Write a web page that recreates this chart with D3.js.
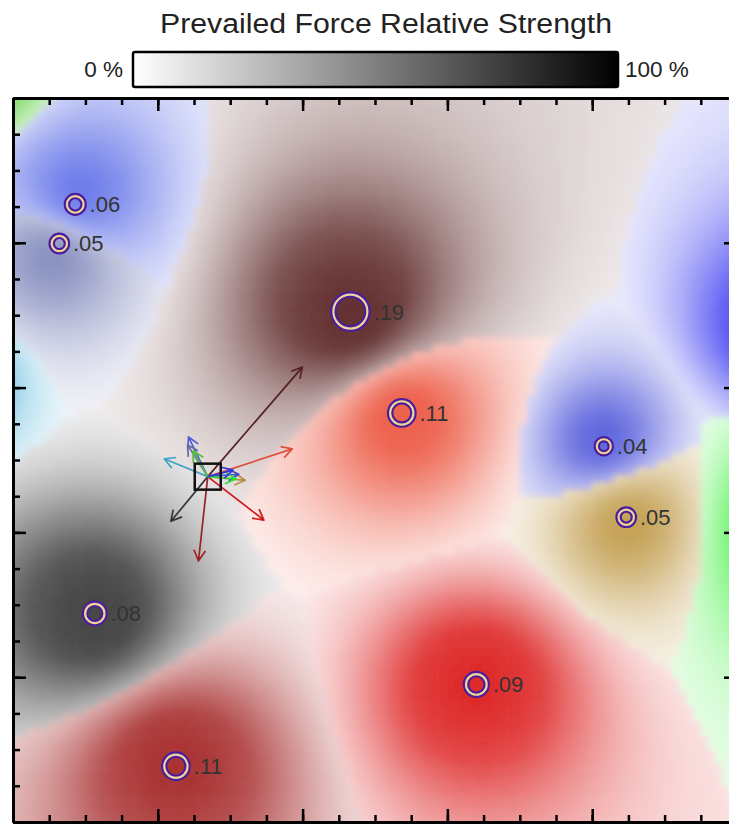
<!DOCTYPE html>
<html>
<head>
<meta charset="utf-8">
<script src="https://cdn.jsdelivr.net/npm/d3@7"></script>
<style>
body { margin: 0; background: #fff; }
text { font-family: "Liberation Sans", Arial, sans-serif; }
</style>
</head>
<body>
<script>
// force sources, axis units 0..100
var labels = [".06", ".05", ".19", ".11", ".04", ".05", ".08", ".09", ".11"];
var srcX = [8.6, 6.4, 46.6, 53.7, 81.6, 84.7, 11.3, 64.0, 22.5];
var srcY = [85.3, 79.9, 70.5, 56.5, 51.9, 42.1, 28.8, 19.0, 7.7];
var strength = [0.06, 0.05, 0.19, 0.11, 0.04, 0.05, 0.08, 0.09, 0.11];
var pull = [6.1, 5.2, 20, 12.3, 4.3, 5.2, 8, 9.8, 11.7];

// sources sitting just outside the frame (no marker, no label)
var edgeX = [109, 106, -8, -4];
var edgeY = [41, 68, 62, 102];
var edgeStrength = [0.09, 0.05, 0.02, 0.02];
var edgePull = [3.9, 3.6, 6.5, 4.1];

var palette = ["#5466e6", "#6a74b0", "#5a2424", "#ec5842", "#4a52d8", "#c09a48",
               "#3a3a3a", "#dc1c1c", "#a42626", "#30f030", "#3838f0", "#48b0d8", "#60d040"];

var probe = [26.9, 47.7];
var minorTicks = d3.range(0, 101, 5);
var majorTicks = d3.range(0, 101, 20);
var barLabels = ["0 %", "100 %"];

var w = 729, h = 824,
    plotLeft = 13, plotTop = 98, side = 724;

var svg = d3.select("body").append("svg")
    .attr("width", w)
    .attr("height", h);

var x = d3.scaleLinear().domain([0, 100]).range([plotLeft, plotLeft + side]);
var y = d3.scaleLinear().domain([0, 100]).range([plotTop + side, plotTop]);
var rScale = d3.scaleLinear().domain([0.04, 0.19]).range([7, 17]);

// all sources together
var sources = srcX.map(function(v, i) {
    return { x: v, y: srcY[i], s: strength[i], pull: pull[i], label: labels[i], c: palette[i] };
}).concat(edgeX.map(function(v, i) {
    return { x: v, y: edgeY[i], s: edgeStrength[i], pull: edgePull[i], label: null, c: palette[srcX.length + i] };
}));

var defs = svg.append("defs");
defs.append("clipPath").attr("id", "plotclip")
    .append("rect").attr("x", x(0)).attr("y", y(100))
    .attr("width", side).attr("height", side);
defs.append("filter").attr("id", "soft")
    .attr("x", "-5%").attr("y", "-5%").attr("width", "110%").attr("height", "110%")
    .append("feGaussianBlur").attr("stdDeviation", 3);

// prevailing force field
var soft2 = 30, reach = 14;
var cells = [];
for (var gx = -2; gx < 102; gx++) {
    for (var gy = -2; gy < 102; gy++) {
        var cx = gx + 0.5, cy = gy + 0.5;
        var sum = 0, best = -1, bi = 0, bd = 0;
        sources.forEach(function(p, i) {
            var d2 = (p.x - cx) * (p.x - cx) + (p.y - cy) * (p.y - cy);
            var f = p.s / Math.pow(d2 + soft2, 1.5);
            sum += f;
            if (f > best) { best = f; bi = i; bd = d2; }
        });
        var rel = best / sum;
        var t = Math.max(0, Math.min(1, (rel - 0.15) / 0.75));
        t *= 0.3 + 0.7 * Math.exp(-bd / (2 * reach * reach));
        cells.push({ gx: gx, gy: gy, fill: d3.interpolateRgb("#ffffff", sources[bi].c)(0.08 + t * 0.86) });
    }
}

var field = svg.append("g").attr("clip-path", "url(#plotclip)")
    .append("g").attr("filter", "url(#soft)");
field.selectAll("rect").data(cells).enter().append("rect")
    .attr("x", function(d) { return x(d.gx); })
    .attr("y", function(d) { return y(d.gy + 1); })
    .attr("width", x(1) - x(0) + 0.6)
    .attr("height", y(0) - y(1) + 0.6)
    .attr("fill", function(d) { return d.fill; });

// arrows from the probe toward each source
var ox = x(probe[0]), oy = y(probe[1]);
var unitPx = x(1) - x(0);
var arrows = sources.slice().sort(function(a, b) { return b.pull - a.pull; });
var ag = svg.append("g").attr("clip-path", "url(#plotclip)");
arrows.forEach(function(p) {
    var dx = x(p.x) - ox, dy = y(p.y) - oy;
    var n = Math.sqrt(dx * dx + dy * dy);
    var ux = dx / n, uy = dy / n;
    var L = p.pull * unitPx;
    var ex = ox + ux * L, ey = oy + uy * L;
    var a = Math.atan2(uy, ux), hl = 12, spread = 0.5;
    var path = d3.path();
    path.moveTo(ox, oy); path.lineTo(ex, ey);
    path.moveTo(ex - hl * Math.cos(a - spread), ey - hl * Math.sin(a - spread));
    path.lineTo(ex, ey);
    path.lineTo(ex - hl * Math.cos(a + spread), ey - hl * Math.sin(a + spread));
    ag.append("path")
        .attr("d", path.toString())
        .attr("fill", "none")
        .attr("stroke", d3.color(p.c).darker(0.2))
        .attr("stroke-width", 1.7)
        .attr("stroke-linejoin", "round");
});

svg.append("rect")
    .attr("x", ox - 13).attr("y", oy - 13)
    .attr("width", 26).attr("height", 26)
    .attr("fill", "none").attr("stroke", "#111").attr("stroke-width", 2.5);

// markers
var marked = sources.filter(function(p) { return p.label; });
var mg = svg.append("g");
mg.selectAll("circle.outer").data(marked).enter().append("circle")
    .attr("class", "outer")
    .attr("cx", function(d) { return x(d.x); })
    .attr("cy", function(d) { return y(d.y); })
    .attr("r", function(d) { return rScale(d.s); })
    .attr("fill", "none").attr("stroke", "#4a1c9e").attr("stroke-width", 6.5);
mg.selectAll("circle.inner").data(marked).enter().append("circle")
    .attr("class", "inner")
    .attr("cx", function(d) { return x(d.x); })
    .attr("cy", function(d) { return y(d.y); })
    .attr("r", function(d) { return rScale(d.s); })
    .attr("fill", "none").attr("stroke", "#ecd596").attr("stroke-width", 2.2);
mg.selectAll("text").data(marked).enter().append("text")
    .attr("x", function(d) { return x(d.x) + rScale(d.s) + 6; })
    .attr("y", function(d) { return y(d.y); })
    .attr("dy", "0.36em")
    .attr("font-size", 22)
    .attr("fill", "#333")
    .text(function(d) { return d.label; });

// frame and ticks
var frame = [
    [d3.axisBottom, x, "translate(0," + y(0) + ")"],
    [d3.axisTop, x, "translate(0," + y(100) + ")"],
    [d3.axisLeft, y, "translate(" + x(0) + ",0)"],
    [d3.axisRight, y, "translate(" + x(100) + ",0)"]
];
frame.forEach(function(f) {
    [[minorTicks, 7], [majorTicks, 13]].forEach(function(tk) {
        svg.append("g").attr("transform", f[2])
            .call(f[0](f[1]).tickValues(tk[0]).tickSize(-tk[1]).tickSizeOuter(0).tickFormat(""));
    });
});
svg.selectAll(".domain").attr("stroke", "#000").attr("stroke-width", 3);
svg.selectAll(".tick line").attr("stroke", "#000").attr("stroke-width", 2.5);

// colour bar
var grad = defs.append("linearGradient").attr("id", "greys");
grad.append("stop").attr("offset", "0%").attr("stop-color", "#ffffff");
grad.append("stop").attr("offset", "100%").attr("stop-color", "#000000");

svg.append("text")
    .attr("x", 386).attr("y", 33)
    .attr("text-anchor", "middle")
    .attr("font-size", 27)
    .attr("textLength", 452)
    .attr("lengthAdjust", "spacingAndGlyphs")
    .attr("fill", "#222")
    .text("Prevailed Force Relative Strength");

svg.append("rect")
    .attr("x", 133).attr("y", 52)
    .attr("width", 485).attr("height", 35)
    .attr("rx", 2)
    .attr("fill", "url(#greys)")
    .attr("stroke", "#000").attr("stroke-width", 2.5);

svg.append("text")
    .attr("x", 123).attr("y", 77)
    .attr("text-anchor", "end")
    .attr("font-size", 22.5)
    .attr("fill", "#222")
    .text(barLabels[0]);
svg.append("text")
    .attr("x", 625).attr("y", 77)
    .attr("font-size", 22.5)
    .attr("fill", "#222")
    .text(barLabels[1]);
</script>
</body>
</html>
